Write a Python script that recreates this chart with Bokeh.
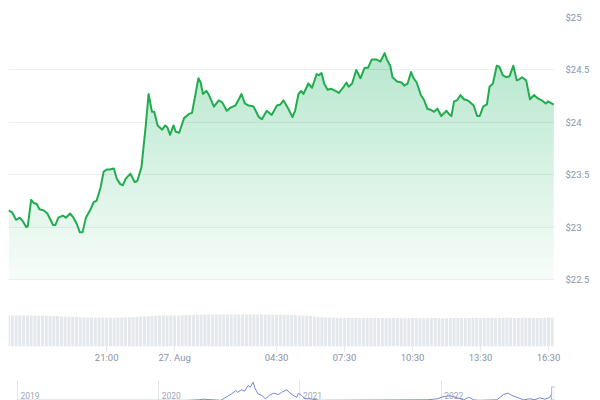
import numpy as np
from bokeh.plotting import figure
from bokeh.models import Range1d, FixedTicker
from bokeh.core.properties import value
from bokeh.layouts import column
from bokeh.embed import file_html
from bokeh.resources import INLINE

# ---- price series: minutes after 26 Aug 16:40, price in USD ----
price_minutes = [0, 10, 20, 30, 39, 47, 51, 60, 67, 75, 82, 93, 103, 118, 124, 132, 144, 152, 163, 172,
                 181, 189, 196, 205, 216, 226, 233, 244, 252, 261, 268, 279, 287, 296, 303, 310, 323, 334, 341, 352,
                 363, 371, 380, 386, 395, 407, 415, 421, 428, 437, 443, 452, 465, 478, 486, 503, 509, 515, 524, 531,
                 544, 557, 566, 578, 588, 601, 610, 617, 626, 636, 649, 663, 671, 684, 697, 711, 720, 728, 741, 752,
                 759, 768, 775, 781, 794, 804, 816, 822, 829, 836, 845, 854, 866, 875, 886, 895, 901, 910, 921, 932,
                 943, 952, 962, 974, 985, 996, 1002, 1011, 1017, 1029, 1041, 1048, 1057, 1066, 1073, 1081, 1092, 1101, 1109, 1118,
                 1127, 1136, 1146, 1160, 1166, 1173, 1180, 1188, 1197, 1206, 1215, 1223, 1232, 1241, 1248, 1257, 1267, 1274, 1283, 1293,
                 1300, 1309, 1318, 1327, 1337, 1346, 1353, 1360, 1371, 1381, 1392, 1401, 1412, 1423, 1429, 1438, 1444]
prices = [23.16, 23.14, 23.07, 23.09, 23.05, 23.00, 23.01, 23.26, 23.23, 23.22, 23.17, 23.16, 23.13, 23.02, 23.02, 23.09, 23.11, 23.09, 23.13, 23.09,
          23.03, 22.95, 22.95, 23.09, 23.16, 23.24, 23.25, 23.38, 23.53, 23.55, 23.55, 23.56, 23.46, 23.41, 23.40, 23.46, 23.51, 23.43, 23.44, 23.57,
          23.95, 24.27, 24.10, 24.10, 23.97, 23.93, 23.97, 23.95, 23.88, 23.97, 23.91, 23.90, 24.04, 24.08, 24.09, 24.42, 24.38, 24.27, 24.30, 24.26,
          24.15, 24.21, 24.19, 24.11, 24.14, 24.16, 24.22, 24.27, 24.18, 24.16, 24.15, 24.05, 24.03, 24.11, 24.07, 24.16, 24.17, 24.21, 24.13, 24.05,
          24.11, 24.27, 24.30, 24.27, 24.37, 24.33, 24.46, 24.45, 24.47, 24.37, 24.31, 24.32, 24.30, 24.28, 24.33, 24.38, 24.34, 24.37, 24.50, 24.42,
          24.52, 24.52, 24.60, 24.60, 24.58, 24.66, 24.60, 24.54, 24.43, 24.39, 24.38, 24.35, 24.37, 24.48, 24.42, 24.38, 24.26, 24.21, 24.13, 24.12,
          24.10, 24.13, 24.06, 24.11, 24.08, 24.06, 24.20, 24.21, 24.26, 24.22, 24.21, 24.19, 24.16, 24.06, 24.06, 24.15, 24.17, 24.34, 24.37, 24.54,
          24.53, 24.45, 24.43, 24.44, 24.54, 24.40, 24.41, 24.43, 24.40, 24.22, 24.26, 24.23, 24.21, 24.18, 24.20, 24.18, 24.17]

# ---- volume (millions USD), one bar every 10 minutes from 16:40 ----
volume_step_min = 10
volumes = [277, 276, 276, 275, 276, 276, 275, 275, 274, 275, 274, 273, 272, 271,
           268, 267, 266, 266,
           262, 260, 259, 258, 258, 257, 258, 258, 259, 258, 257, 258, 259, 260, 261,
           263, 265, 267, 268, 270,
           272, 274, 275, 276, 276, 277, 276, 277, 278, 279, 280, 281, 282,
           283, 284, 285, 285, 286, 285, 285, 286, 286, 285, 285, 286, 285, 285, 284, 285, 285, 284, 284, 283, 283, 282, 282, 281, 281, 280,
           278, 276, 274, 271, 268, 265, 262, 259,
           257, 256, 255, 255, 254, 254, 254, 253, 254, 254, 253, 253, 254, 254, 253, 253, 252, 253, 253, 253,
           252, 252, 253, 253, 252, 252, 252, 253, 253, 252, 252, 252, 253, 253, 253, 254, 254, 253, 253, 254,
           254, 254, 255, 255, 254, 254, 255, 255, 255, 254, 254, 255, 255, 255, 255, 254, 254, 255, 255, 255]

# ---- axes ----
x_tick_minutes = [260, 440, 710, 890, 1070, 1250, 1430]
x_tick_labels = ["21:00", "27. Aug", "04:30", "07:30", "10:30", "13:30", "16:30"]
price_ticks = [22.5, 23, 23.5, 24, 24.5, 25]
price_tick_labels = ["$22.5", "$23", "$23.5", "$24", "$24.5", "$25"]

# ---- navigator (long-term history, fractional years) ----
nav_years = [2019.0, 2020.2, 2020.286, 2020.314, 2020.441, 2020.497, 2020.518, 2020.546, 2020.560, 2020.586,
             2020.609, 2020.632, 2020.649, 2020.668, 2020.684, 2020.703, 2020.731, 2020.755, 2020.783, 2020.813,
             2020.848, 2020.871, 2020.907, 2020.923, 2020.954, 2020.977, 2020.989, 2021.012, 2021.036, 2021.071,
             2021.117, 2021.141, 2021.902, 2021.972, 2022.020, 2022.066, 2022.113, 2022.160, 2022.195, 2022.230,
             2022.266, 2022.394, 2022.441, 2022.476, 2022.500, 2022.535, 2022.582, 2022.628, 2022.663, 2022.699,
             2022.734, 2022.769, 2022.788]
nav_prices = [0.5, 0.5, 2.0, 3.7, 0.5, 14.3, 19.1, 28.6, 23.7, 30.6,
              26.6, 42.9, 38.0, 52.3, 33.4, 19.1, 14.3, 4.9, 14.3, 20.9,
              17.1, 23.7, 30.6, 23.7, 14.3, 9.4, 20.9, 14.3, 4.9, 4.9,
              2.0, 0.5, 2.0, 4.9, 11.4, 13.4, 7.7, 2.0, 9.4, 2.0,
              0.5, 2.0, 17.1, 20.9, 14.3, 9.4, 2.0, 4.9, 2.0, 7.7,
              3.7, 9.4, 23.7]
nav_year_lines = [2019, 2020, 2021, 2022]
nav_year_labels = ["2019", "2020", "2021", "2022"]

GREEN = "#21ad4f"
LABEL = "#8a93a6"
GRID = "#eef0f3"
FONT = "Roboto"
FSIZE = "9.5px"

x_end = 1446
y_start, y_end = 21.861, 25.0

p = figure(width=592, height=372, x_range=Range1d(0, x_end), y_range=Range1d(y_start, y_end),
           y_axis_location="right", output_backend="svg", toolbar_location=None,
           min_border_left=8, min_border_right=34, min_border_top=17, min_border_bottom=26,
           outline_line_color=None, background_fill_color="white", border_fill_color="white")

x = np.array(price_minutes, dtype=float)
y = np.array(prices, dtype=float)

# gradient-like area fill built from stacked translucent bands
base = price_ticks[0]
p.varea(x=x, y1=base, y2=y, fill_color=GREEN, fill_alpha=0.04)
levels = np.arange(base, max(prices), 0.1)[1:]
for L in levels:
    p.varea(x=x, y1=L, y2=np.maximum(y, L), fill_color=GREEN, fill_alpha=0.0105)

p.line(x, y, line_color=GREEN, line_width=2, line_join="round")

# volume bars
p.extra_y_ranges = {"vol": Range1d(0, 2930)}
vol_x = [i * volume_step_min for i in range(len(volumes))]
p.vbar(x=vol_x, top=volumes, bottom=0, width=volume_step_min * 0.78, y_range_name="vol",
       fill_color="#e4e7ec", line_color=None)

# grid
p.xgrid.visible = False
p.ygrid.ticker = FixedTicker(ticks=price_ticks)
p.ygrid.grid_line_color = GRID
p.ygrid.grid_line_width = 1

# y axis (right)
ya = p.yaxis[0]
ya.ticker = FixedTicker(ticks=price_ticks)
ya.major_label_overrides = {t: l for t, l in zip(price_ticks, price_tick_labels)}
ya.axis_line_color = None
ya.major_tick_line_color = None
ya.minor_tick_line_color = None
ya.major_tick_in = 0
ya.major_tick_out = 0
ya.minor_tick_in = 0
ya.minor_tick_out = 0
ya.major_label_standoff = 11
ya.major_label_text_color = LABEL
ya.major_label_text_font = FONT
ya.major_label_text_font_size = FSIZE

# x axis
xa = p.xaxis[0]
xa.ticker = FixedTicker(ticks=x_tick_minutes)
xa.major_label_overrides = {t: l for t, l in zip(x_tick_minutes, x_tick_labels)}
xa.axis_line_color = None
xa.major_tick_line_color = "#e3e6eb"
xa.major_tick_in = 0
xa.major_tick_out = 5
xa.minor_tick_line_color = None
xa.minor_tick_in = 0
xa.minor_tick_out = 0
xa.major_label_standoff = 0
xa.major_label_text_color = LABEL
xa.major_label_text_font = FONT
xa.major_label_text_font_size = FSIZE

# navigator
nav_x_start, nav_x_end = 2018.937, 2022.802
nav_y_start, nav_y_end = 0, 60
nav = figure(width=592, height=28, x_range=Range1d(nav_x_start, nav_x_end),
             y_range=Range1d(nav_y_start, nav_y_end), x_axis_location=None, y_axis_location=None,
             output_backend="svg", toolbar_location=None,
             min_border_left=8, min_border_right=34, min_border_top=7, min_border_bottom=0,
             outline_line_color=None, background_fill_color="white", border_fill_color="white")
nav.xgrid.ticker = FixedTicker(ticks=nav_year_lines + [nav_x_end])
nav.ygrid.ticker = FixedTicker(ticks=[nav_y_end])
nav.xgrid.grid_line_color = "#e3e6eb"
nav.ygrid.grid_line_color = "#dde1e7"
nav.text(x=nav_year_lines, y=[nav_y_start + 3.5] * len(nav_year_lines), text=nav_year_labels,
         x_offset=3, text_baseline="bottom", text_align="left", text_color="#a0a7b5",
         text_font=value(FONT), text_font_size="8.5px")
nav.line(nav_years, nav_prices, line_color="#7088d8", line_width=1)
nav.rect(x=[nav_x_end], y=[nav_y_start + 20], width=6, height=13,
         width_units="screen", height_units="screen",
         fill_color="#f4f5f7", line_color="#b8bec9", line_width=1)

layout = column(p, nav, spacing=0)
open("out.html", "w").write(file_html(layout, INLINE, title="Price chart"))
